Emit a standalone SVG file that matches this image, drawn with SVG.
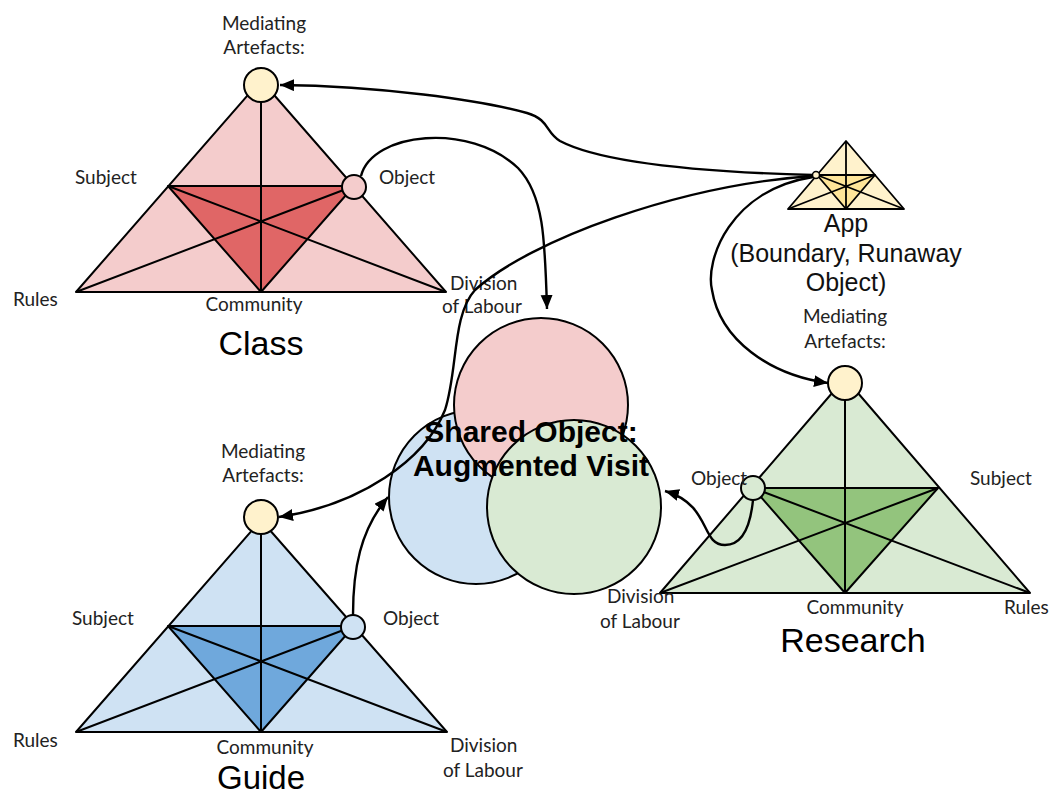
<svg xmlns="http://www.w3.org/2000/svg" width="1050" height="794" viewBox="0 0 1050 794">
<style>
.tri{stroke:#000;stroke-width:2;stroke-linejoin:round}
.ln{stroke:#000;stroke-width:2;fill:none}
.ma{fill:#FFF2CC;stroke:#000;stroke-width:2}
.conn{fill:none;stroke:#000;stroke-width:2.4}
.lab{font-family:Lato,"Noto Sans",sans-serif;font-size:19px;fill:#222}
.big{font-family:"Liberation Sans",Arial,sans-serif;font-size:34px;fill:#000}
.app{font-family:"Liberation Sans",Arial,sans-serif;font-size:25px;fill:#111}
.shared{font-family:"Liberation Sans",Arial,sans-serif;font-size:30px;font-weight:bold;fill:#000}
.circ{stroke:#000;stroke-width:2}
</style>
<defs>
<marker id="arr" markerUnits="userSpaceOnUse" markerWidth="16" markerHeight="14" refX="14" refY="6" orient="auto">
<path d="M0,0 L14,6 L0,12 z" fill="#000"/>
</marker>
</defs>

<g id="shared">
<circle cx="476" cy="497" r="87" fill="#CFE2F3" class="circ"/>
<circle cx="541" cy="405" r="87" fill="#F4CCCC" class="circ"/>
<circle cx="574" cy="507" r="87" fill="#D9EAD3" class="circ"/>
<text class="shared" x="531" y="442" text-anchor="middle">Shared Object:</text>
<text class="shared" x="531" y="476" text-anchor="middle">Augmented Visit</text>
</g>

<g id="class">
<polygon class="tri" points="261,80 76,292 446,292" fill="#F4CCCC"/>
<polygon class="tri" points="168,186 354,186 261,292" fill="#E06666"/>
<path class="ln" d="M261,80 L261,292 M76,292 L354,186 M168,186 L446,292"/>
<circle class="ma" cx="261" cy="85" r="17"/>
<circle cx="354" cy="187" r="12" fill="#F4CCCC" class="circ"/>
<text class="lab" x="264" y="30" text-anchor="middle">Mediating</text>
<text class="lab" x="264" y="54" text-anchor="middle">Artefacts:</text>
<text class="lab" x="75" y="184">Subject</text>
<text class="lab" x="379" y="184">Object</text>
<text class="lab" x="13" y="306">Rules</text>
<text class="lab" x="254" y="311" text-anchor="middle">Community</text>
<text class="lab" x="450" y="290">Division</text>
<text class="lab" x="442" y="313">of Labour</text>
<text class="big" x="261" y="355" text-anchor="middle">Class</text>
</g>

<g id="guide">
<polygon class="tri" points="261,520 76,732 447,732" fill="#CFE2F3"/>
<polygon class="tri" points="168,626 354,626 261,732" fill="#6FA8DC"/>
<path class="ln" d="M261,520 L261,732 M76,732 L354,626 M168,626 L447,732"/>
<circle class="ma" cx="261" cy="517" r="17"/>
<circle cx="353" cy="627" r="12" fill="#CFE2F3" class="circ"/>
<text class="lab" x="263" y="458" text-anchor="middle">Mediating</text>
<text class="lab" x="263" y="482" text-anchor="middle">Artefacts:</text>
<text class="lab" x="72" y="625">Subject</text>
<text class="lab" x="383" y="625">Object</text>
<text class="lab" x="13" y="747">Rules</text>
<text class="lab" x="265" y="754" text-anchor="middle">Community</text>
<text class="lab" x="450" y="752">Division</text>
<text class="lab" x="443" y="777">of Labour</text>
<text class="big" x="261" y="789" text-anchor="middle" style="font-size:33px">Guide</text>
</g>

<g id="research">
<polygon class="tri" points="845,378 660,593 1030,593" fill="#D9EAD3"/>
<polygon class="tri" points="753,488 938,488 845,593" fill="#93C47D"/>
<path class="ln" d="M845,378 L845,593 M660,593 L938,488 M753,488 L1030,593"/>
<circle class="ma" cx="845" cy="383" r="17"/>
<circle cx="753" cy="488" r="12" fill="#D9EAD3" class="circ"/>
<text class="lab" x="845" y="323" text-anchor="middle">Mediating</text>
<text class="lab" x="845" y="348" text-anchor="middle">Artefacts:</text>
<text class="lab" x="691" y="485">Object</text>
<text class="lab" x="970" y="485">Subject</text>
<text class="lab" x="855" y="614" text-anchor="middle">Community</text>
<text class="lab" x="1004" y="614">Rules</text>
<text class="lab" x="607" y="603">Division</text>
<text class="lab" x="600" y="628">of Labour</text>
<text class="big" x="853" y="652" text-anchor="middle">Research</text>
</g>

<g id="app">
<polygon class="tri" points="846,141 788,209 904,209" fill="#FFF2CC" style="stroke-width:1.8"/>
<polygon class="tri" points="817,175 875,175 846,209" fill="#FFE599" style="stroke-width:1.8"/>
<path class="ln" style="stroke-width:1.8" d="M846,141 L846,209 M788,209 L875,175 M817,175 L904,209"/>
<circle cx="816" cy="175" r="3.5" fill="#FFF2CC" stroke="#000" stroke-width="1.5"/>
<text class="app" x="846" y="232" text-anchor="middle">App</text>
<text class="app" x="846" y="262" text-anchor="middle">(Boundary, Runaway</text>
<text class="app" x="846" y="291" text-anchor="middle">Object)</text>
</g>

<g id="connectors">
<path class="conn" marker-end="url(#arr)" d="M813,175 C700,172 600,162 560,141 C545,132 550,120 527,113 C480,100 380,86 280,85"/>
<path class="conn" marker-end="url(#arr)" d="M361,176 C372,132 470,122 518,168 C544,195 545,240 547,309"/>
<path class="conn" marker-end="url(#arr)" d="M813,176 C680,185 530,240 475,290 C452,315 458,370 445,410 C425,460 360,505 279,517"/>
<path class="conn" marker-end="url(#arr)" d="M353,615 C353,570 360,530 388,497"/>
<path class="conn" marker-end="url(#arr)" d="M813,177 C730,190 705,260 712,290 C720,340 770,375 828,383"/>
<path class="conn" marker-end="url(#arr)" d="M753,500 C750,530 740,545 725,545 C700,545 712,505 665,491"/>
</g>
</svg>
